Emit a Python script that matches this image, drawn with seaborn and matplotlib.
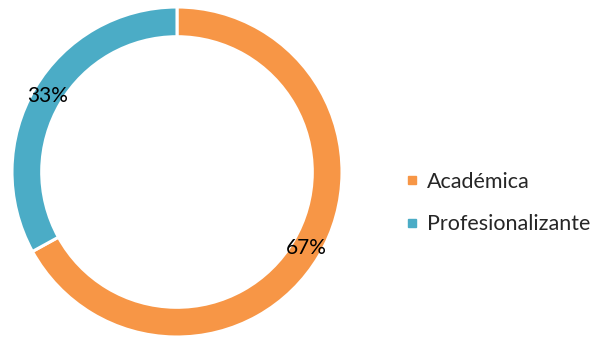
import matplotlib
matplotlib.use("Agg")
import matplotlib.pyplot as plt
from matplotlib.lines import Line2D
import numpy as np
import seaborn as sns

categories = ["Académica", "Profesionalizante"]
values = [67, 33]
colors = ["#F79646", "#4BACC6"]

sns.set_theme(style="white")
plt.rcParams["font.family"] = ["Lato", "DejaVu Sans"]

W, H = 594, 339
fig = plt.figure(figsize=(W / 100, H / 100), dpi=100)
fig.patch.set_facecolor("white")

# donut placed by pixel geometry: centre (177,172), outer radius 165
cx, cy, r = 177, 172, 165
ax = fig.add_axes([(cx - r) / W, (H - cy - r) / H, 2 * r / W, 2 * r / H])
ring = 0.18
wedges, _ = ax.pie(values, colors=colors, startangle=90, counterclock=False,
                   radius=1.0, wedgeprops=dict(width=ring, edgecolor="white", linewidth=2.2))
ax.set_xlim(-1, 1)
ax.set_ylim(-1, 1)
ax.set_aspect("equal")
ax.axis("off")

for w, v in zip(wedges, values):
    ang = np.deg2rad((w.theta1 + w.theta2) / 2)
    rr = 1 - ring / 2
    ax.text(rr * np.cos(ang), rr * np.sin(ang), f"{v}%", ha="center", va="center",
            fontsize=15, color="black")

handles = [Line2D([], [], marker="s", linestyle="none", markersize=6,
                  markerfacecolor=c, markeredgecolor=c) for c in colors]
fig.legend(handles, categories, loc="center left", bbox_to_anchor=(383 / W, 1 - 203 / H),
           frameon=False, fontsize=15.5, handletextpad=0.25, labelspacing=1.05,
           handlelength=0.9)

fig.savefig("out.png", dpi=100)
